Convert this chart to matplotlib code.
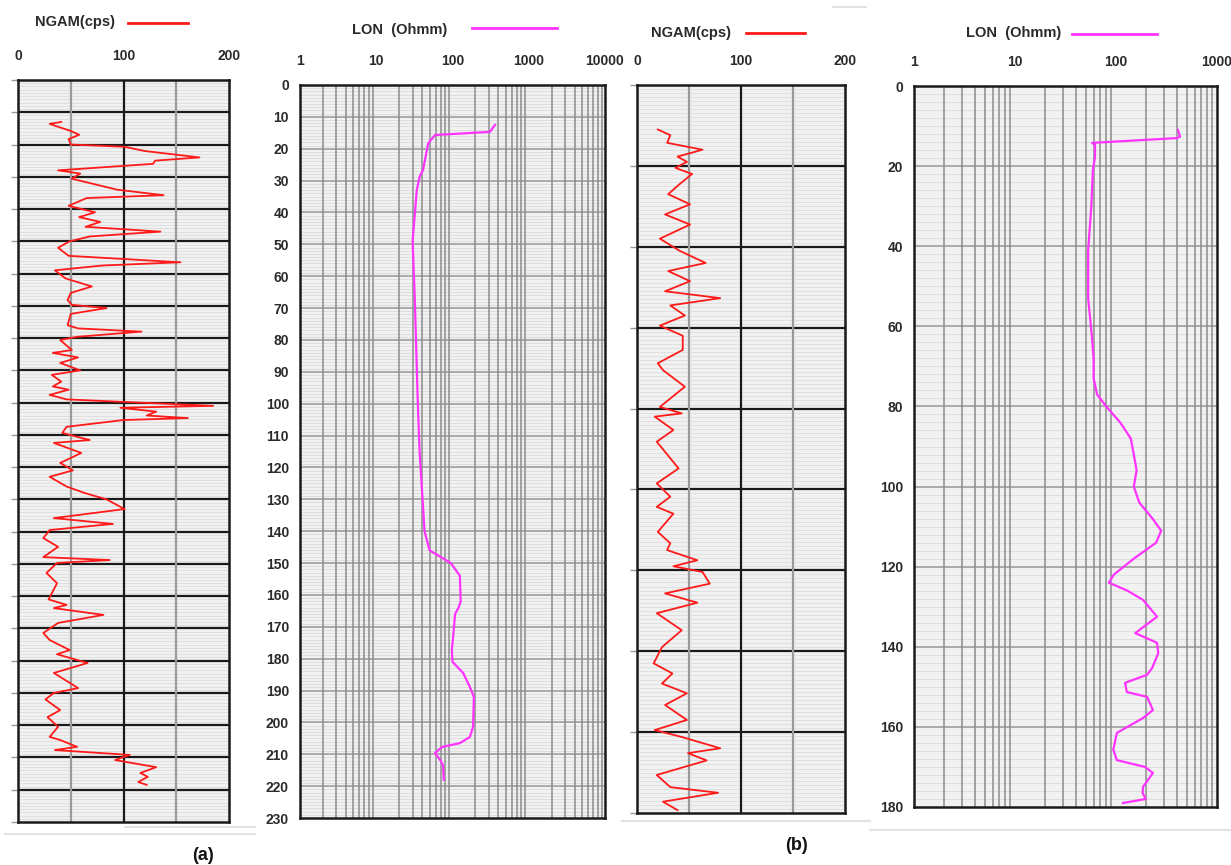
import matplotlib.pyplot as plt
import numpy as np
from matplotlib.lines import Line2D

#--------------------------------
# DATA
#--------------------------------
# panel (a) gamma log: depth (m) and NGAM (cps)
gam_a_depth = [13.0, 13.6, 14.5, 15.8, 17.0, 18.3, 20.0, 20.7, 22.0, 24.0, 25.0, 26.0, 28.0, 29.0,
               30.6, 34.0, 35.7, 36.6, 39.0, 41.0, 42.5, 44.0, 45.5, 47.0, 48.5, 50.0, 52.0, 54.5,
               56.5, 57.5, 59.0, 61.5, 64.0, 66.0, 68.2, 69.7, 70.7, 72.5, 76.0, 77.0, 78.0, 79.6,
               80.6, 83.7, 84.6, 86.0, 87.7, 90.0, 91.4, 93.5, 95.0, 96.0, 97.6, 99.0, 101.0, 101.6,
               102.8, 104.0, 104.8, 105.4, 107.5, 109.4, 111.6, 112.5, 115.6, 118.7, 121.0, 123.0,
               126.0, 128.0, 130.0, 133.0, 135.8, 137.6, 139.5, 142.0, 144.7, 147.9, 148.8, 149.7,
               152.8, 156.0, 161.0, 162.7, 163.7, 165.8, 168.3, 171.4, 173.6, 176.7, 178.0, 180.7,
               183.8, 188.5, 190.0, 192.0, 195.3, 197.5, 200.5, 203.6, 204.6, 206.7, 207.7, 209.2,
               210.8, 213.0, 214.8, 216.0, 217.6, 218.5]
gam_a_val = [41, 30, 38, 50, 58, 48, 50, 101, 120, 172, 130, 128, 38, 59,
             51, 94, 138, 65, 48, 73, 58, 78, 64, 135, 68, 49, 38, 48,
             154, 80, 35, 45, 70, 50, 47, 51, 84, 50, 47, 57, 117, 56,
             40, 51, 33, 57, 40, 59, 32, 41, 33, 48, 30, 46, 185, 97,
             131, 122, 161, 100, 46, 42, 68, 34, 60, 40, 52, 30,
             46, 63, 84, 101, 34, 90, 30, 24, 38, 24, 87, 37,
             27, 37, 29, 46, 34, 81, 38, 24, 30, 49, 37, 66,
             34, 57, 34, 26, 40, 28, 38, 30, 40, 56, 35, 106,
             92, 131, 116, 123, 114, 122]

# panel (a) resistivity log: depth (m) and LON (Ohmm)
res_a_depth = [12.5, 14.7, 15.7, 18.3, 26.7, 28.8, 33.0, 49.0, 67.0, 99.0, 115.0, 140.0, 146.0,
               150.0, 154.0, 162.0, 164.0, 166.0, 172.0, 177.3, 181.0, 184.5, 188.9, 192.0, 201.4,
               204.6, 206.5, 207.7, 209.6, 211.8, 213.4, 218.0]
res_a_val = [361, 310, 59, 48, 41, 37, 34, 30, 32, 35, 37, 43, 50,
             95, 125, 128, 120, 108, 103, 98, 100, 138, 169, 191, 186,
             169, 125, 73, 59, 69, 75, 77]

# panel (b) gamma log
gam_b_depth = [11.0, 12.4, 14.3, 16.0, 17.7, 19.0, 20.5, 22.0, 24.5, 27.0, 29.5, 32.0, 34.5, 38.0,
               41.0, 44.0, 46.0, 48.5, 51.0, 52.7, 54.5, 57.0, 59.5, 62.0, 65.5, 68.8, 70.5, 74.6,
               79.6, 81.2, 82.0, 85.3, 88.2, 94.8, 98.5, 101.8, 104.3, 106.0, 110.5, 113.3, 115.0,
               117.5, 119.0, 120.4, 123.3, 125.7, 128.0, 130.6, 134.8, 139.0, 143.0, 145.5, 148.0,
               150.4, 153.3, 157.0, 159.5, 161.2, 164.0, 165.2, 167.0, 170.6, 173.6, 175.0, 177.2,
               179.3]
gam_b_val = [20, 32, 29, 63, 39, 48, 37, 53, 41, 30, 51, 27, 51, 22,
             41, 66, 30, 51, 27, 80, 32, 46, 22, 44, 44, 20, 25, 46,
             22, 43, 17, 35, 19, 40, 19, 32, 19, 35, 20, 32, 29,
             58, 35, 63, 70, 27, 58, 19, 43, 24, 16, 34, 24,
             48, 27, 48, 17, 43, 80, 49, 67, 19, 32, 78, 25,
             39]

# panel (b) resistivity log
res_b_depth = [11.0, 12.7, 13.0, 14.2, 14.7, 17.7, 21.0, 30.0, 41.0, 53.0, 61.0, 68.0, 73.0, 77.0,
               80.0, 84.0, 88.0, 92.0, 96.0, 100.0, 104.0, 108.0, 111.0, 114.0, 118.0, 122.0,
               124.0, 126.0, 128.3, 132.5, 136.6, 139.0, 141.6, 145.3, 147.0, 149.0, 151.3, 152.5,
               155.8, 157.8, 161.5, 165.7, 168.3, 170.0, 171.5, 175.0, 176.5, 178.0, 179.0]
res_b_val = [411, 430, 400, 58, 62, 62, 59, 57, 53, 53, 57, 60, 60, 65,
             80, 110, 140, 150, 160, 150, 170, 230, 280, 250, 150, 95,
             85, 130, 185, 255, 155, 255, 262, 228, 203, 123, 128, 203,
             232, 185, 102, 94, 102, 194, 232, 185, 183, 198, 117]

gam_ticks = [0, 100, 200]
res_a_ticks = [1, 10, 100, 1000, 10000]
res_b_ticks = [1, 10, 100, 1000]
depth_a_ticks = list(range(0, 231, 10))
depth_b_ticks = list(range(0, 181, 20))

#--------------------------------
# FIGURE
#--------------------------------
W, H = 1231, 865
fig = plt.figure(figsize=(W / 100, H / 100), dpi=100)
plt.rcParams['font.family'] = ['Liberation Sans', 'DejaVu Sans']

RED = '#ff1a1a'
MAG = '#ff33ff'
TXT = '#2a2a2a'
BG = '#f1f1f1'


def px_axes(x0, y0, x1, y1):
    return fig.add_axes([x0 / W, 1 - y1 / H, (x1 - x0) / W, (y1 - y0) / H])


def frame(ax):
    ax.set_facecolor(BG)
    for s in ax.spines.values():
        s.set_linewidth(1.8)
        s.set_color('#1a1a1a')
    ax.set_axisbelow(True)


def gamma_panel(ax, depth, val, dmax, major):
    frame(ax)
    ax.set_xlim(0, 200)
    ax.set_ylim(dmax, 0)
    for d in np.arange(1, dmax, 1):
        ax.axhline(d, color='#d9d9d9', lw=0.5, zorder=0)
    for d in range(major, dmax, major):
        ax.axhline(d, color='#1a1a1a', lw=1.6, zorder=1)
    ax.axvline(50, color='#9a9a9a', lw=1.6, zorder=1)
    ax.axvline(150, color='#9a9a9a', lw=1.6, zorder=1)
    ax.axvline(100, color='#1a1a1a', lw=1.6, zorder=1)
    ax.plot(val, depth, color=RED, lw=1.3, zorder=3)
    ax.xaxis.tick_top()
    ax.set_xticks(gam_ticks)
    ax.set_xticklabels([str(t) for t in gam_ticks])
    ax.tick_params(axis='x', length=0, pad=12, labelsize=10, labelcolor=TXT)
    ax.set_yticks(range(0, dmax + 1, major))
    ax.set_yticklabels([])
    ax.tick_params(axis='y', length=5, width=1, color='#999999')
    for lab in ax.get_xticklabels():
        lab.set_fontweight('bold')


def res_panel(ax, depth, val, dmax, major, minor, xmax, yticks):
    frame(ax)
    ax.set_xscale('log')
    ax.set_xlim(1, xmax)
    ax.set_ylim(dmax, 0)
    for d in np.arange(minor, dmax, minor):
        ax.axhline(d, color='#d6d6d6', lw=0.5, zorder=0)
    for d in range(major, dmax, major):
        ax.axhline(d, color='#a0a0a0', lw=1.2, zorder=1)
    dec = 1
    while dec < xmax:
        for m in range(2, 10):
            ax.axvline(dec * m, color='#8c8c8c', lw=1.1, zorder=1)
        dec *= 10
    ax.plot(val, depth, color=MAG, lw=1.6, zorder=3)
    ax.xaxis.tick_top()
    ticks = res_a_ticks if xmax == 10000 else res_b_ticks
    ax.set_xticks(ticks)
    ax.set_xticklabels([str(t) for t in ticks])
    ax.minorticks_off()
    ax.set_yticks(yticks)
    ax.set_yticklabels([str(t) for t in yticks])
    ax.tick_params(axis='x', length=0, pad=12, labelsize=10, labelcolor=TXT)
    ax.tick_params(axis='y', length=0, pad=8, labelsize=10, labelcolor=TXT)
    for lab in ax.get_xticklabels() + ax.get_yticklabels():
        lab.set_fontweight('bold')


ax1 = px_axes(18, 80, 229, 822)
gamma_panel(ax1, gam_a_depth, gam_a_val, 230, 10)

ax2 = px_axes(300, 85, 605, 818)
res_panel(ax2, res_a_depth, res_a_val, 230, 10, 1, 10000, depth_a_ticks)

ax3 = px_axes(637, 85, 845, 813)
gamma_panel(ax3, gam_b_depth, gam_b_val, 180, 20)

ax4 = px_axes(914, 86, 1217, 807)
res_panel(ax4, res_b_depth, res_b_val, 180, 20, 2, 1000, depth_b_ticks)


# legends drawn above each track
def legend(xt, yt, label, x0, x1, yl, color):
    fig.text(xt / W, 1 - yt / H, label, fontsize=10.5, fontweight='bold', color=TXT,
             ha='left', va='center')
    fig.add_artist(Line2D([x0 / W, x1 / W], [1 - yl / H, 1 - yl / H],
                          color=color, lw=2, transform=fig.transFigure))


legend(35, 22, 'NGAM(cps)', 128, 188, 23, RED)
legend(352, 30, 'LON  (Ohmm)', 472, 557, 28, MAG)
legend(651, 33, 'NGAM(cps)', 746, 805, 33, RED)
legend(966, 33, 'LON  (Ohmm)', 1072, 1157, 34, MAG)

fig.text(203 / W, 1 - 856 / H, '(a)', fontsize=13, fontweight='bold', color='#111111',
         ha='center', va='center')
fig.text(797 / W, 1 - 845 / H, '(b)', fontsize=13, fontweight='bold', color='#111111',
         ha='center', va='center')

# faint separator lines from the original scan
for (x0, x1, y) in [(5, 255, 834), (125, 255, 827), (622, 870, 821), (870, 1231, 830), (833, 866, 7)]:
    fig.add_artist(Line2D([x0 / W, x1 / W], [1 - y / H, 1 - y / H],
                          color='#e3e3e3', lw=1.5, transform=fig.transFigure))

fig.savefig('out.png', dpi=100)
